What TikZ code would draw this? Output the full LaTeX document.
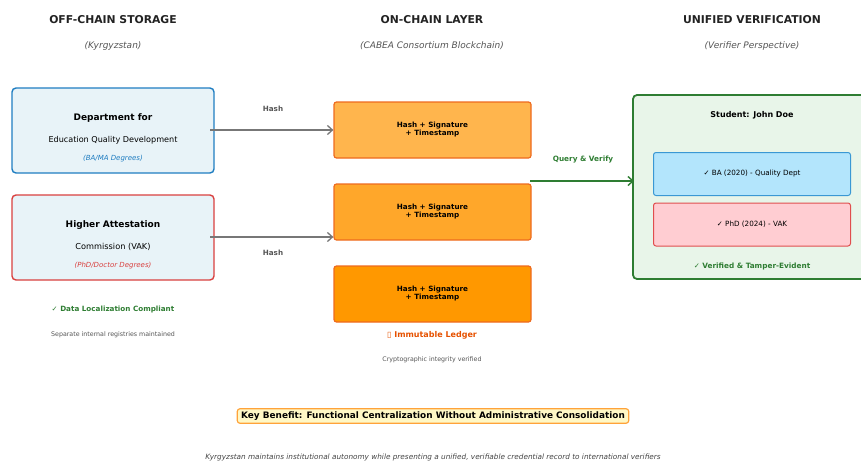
\documentclass[tikz,border=0pt]{standalone}
\usepackage{fontspec}
\setmainfont{DejaVu Sans}
\usetikzlibrary{arrows.meta}
\definecolor{titlec}{HTML}{222222}
\definecolor{subc}{HTML}{555555}
\definecolor{boxfill}{HTML}{E8F3F8}
\definecolor{blueb}{HTML}{1F7DC1}
\definecolor{redb}{HTML}{D9403F}
\definecolor{oranA}{HTML}{FFB54D}
\definecolor{oranB}{HTML}{FFA72A}
\definecolor{oranC}{HTML}{FF9800}
\definecolor{oranb}{HTML}{EE6A1E}
\definecolor{greenb}{HTML}{2E7D32}
\definecolor{greenf}{HTML}{E8F5E9}
\definecolor{ltblue}{HTML}{B3E5FC}
\definecolor{ltblueb}{HTML}{3A98D4}
\definecolor{pinkf}{HTML}{FFCDD2}
\definecolor{pinkb}{HTML}{E04E4E}
\definecolor{keyf}{HTML}{FFF8C6}
\definecolor{keyb}{HTML}{FFA33A}
\definecolor{ledger}{HTML}{E65100}
\definecolor{arrowg}{HTML}{777777}
\begin{document}
\begin{tikzpicture}[x=1pt,y=-1pt,
  coltitle/.style={font=\fontsize{10.8}{12}\selectfont\bfseries, text=titlec},
  colsub/.style={font=\fontsize{9}{10}\selectfont\itshape, text=subc},
  srcbox/.style={draw, line width=1.4pt, rounded corners=4pt, fill=boxfill},
  chainbox/.style={draw=oranb, line width=1.2pt, rounded corners=2.5pt, font=\fontsize{7.2}{8}\selectfont\bfseries, align=center},
  credbox/.style={draw, line width=1pt, rounded corners=2.5pt, font=\fontsize{7.2}{8}\selectfont},
  hasharrow/.style={draw=arrowg, line width=1.4pt, -{Straight Barb[length=5pt,width=9pt,line width=1.3pt]}},
  smalllab/.style={font=\fontsize{7.2}{8}\selectfont\bfseries, text=subc},
  note/.style={font=\fontsize{6.3}{7}\selectfont, text=subc}
  ]
\useasboundingbox (0,0) rectangle (861,463);
\clip (0,0) rectangle (861,463);

% column titles
\node[coltitle] (t1) at (113,20) {OFF-CHAIN STORAGE};
\node[colsub] (s1) at (113,46) {(Kyrgyzstan)};
\node[coltitle] (t2) at (432,20) {ON-CHAIN LAYER};
\node[colsub] (s2) at (432,46) {(CABEA Consortium Blockchain)};
\node[coltitle] (t3) at (752,20) {UNIFIED VERIFICATION};
\node[colsub] (s3) at (752,46) {(Verifier Perspective)};

% off-chain boxes
\draw[srcbox, draw=blueb] (12,88) rectangle (214,173);
\node[font=\fontsize{9}{10}\selectfont\bfseries] (d1) at (113,118) {Department for};
\node[font=\fontsize{8.1}{9}\selectfont] (d2) at (113,140) {Education Quality Development};
\node[font=\fontsize{7}{8}\selectfont\itshape, text=blueb] (d3) at (113,159) {(BA/MA Degrees)};
\coordinate (d1out) at (210,130);

\draw[srcbox, draw=redb] (12,195) rectangle (214,280);
\node[font=\fontsize{9}{10}\selectfont\bfseries] (v1) at (113,225) {Higher Attestation};
\node[font=\fontsize{8.2}{9}\selectfont] (v2) at (113,247) {Commission (VAK)};
\node[font=\fontsize{7}{8}\selectfont\itshape, text=redb] (v3) at (113,266) {(PhD/Doctor Degrees)};
\coordinate (v1out) at (210,237);

\node[font=\fontsize{7.2}{8}\selectfont\bfseries, text=greenb] (dl) at (113,310) {✓ Data Localization Compliant};
\node[note] (sep) at (113,335) {Separate internal registries maintained};

% on-chain blocks
\node[chainbox, fill=oranA, minimum width=197pt, minimum height=56pt] (b1) at (432.5,130) {Hash + Signature\\+ Timestamp};
\node[chainbox, fill=oranB, minimum width=197pt, minimum height=56pt] (b2) at (432.5,212) {Hash + Signature\\+ Timestamp};
\node[chainbox, fill=oranC, minimum width=197pt, minimum height=56pt] (b3) at (432.5,294) {Hash + Signature\\+ Timestamp};
\node[font=\fontsize{9}{10}\selectfont\bfseries, text=ledger] (il) at (432,335) {\fontsize{8}{9}\selectfont▯\ Immutable Ledger};
\node[note] (cr) at (432,360) {Cryptographic integrity verified};

% hash arrows
\draw[hasharrow] (d1out) -- (b1.west);
\draw[hasharrow] (v1out) -- (b2.west |- v1out);
\node[smalllab] (h1) at (273,109) {Hash};
\node[smalllab] (h2) at (273,253) {Hash};

% verification box
\draw[draw=greenb, fill=greenf, line width=1.8pt, rounded corners=4pt] (633,95) rectangle (875,279);
\coordinate (vin) at (634,181);
\coordinate (bout) at (530,181);
\draw[draw=greenb, line width=1.5pt, -{Straight Barb[length=5pt,width=9pt,line width=1.4pt]}] (bout) -- (vin);
\node[font=\fontsize{7.3}{8}\selectfont\bfseries, text=greenb] (qv) at (583,160) {Query \& Verify};
\node[font=\fontsize{8}{9}\selectfont\bfseries] (st) at (752,115) {Student: John Doe};
\node[credbox, draw=ltblueb, fill=ltblue, minimum width=197pt, minimum height=43pt] (ba) at (752,174) {✓ BA (2020) - Quality Dept};
\node[credbox, draw=pinkb, fill=pinkf, minimum width=197pt, minimum height=43pt] (phd) at (752,224.5) {✓ PhD (2024) - VAK};
\node[font=\fontsize{7.3}{8}\selectfont\bfseries, text=greenb] (ve) at (752,266.5) {✓ Verified \& Tamper-Evident};

% key benefit
\node[draw=keyb, fill=keyf, line width=1.2pt, rounded corners=3pt, inner xsep=4pt, inner ysep=3pt, font=\fontsize{8.9}{10}\selectfont\bfseries] (kb) at (433,416) {Key Benefit: Functional Centralization Without Administrative Consolidation};
\node[font=\fontsize{7.3}{8}\selectfont\itshape, text=titlec!85, inner ysep=1pt] (bt) at (433,457.5) {Kyrgyzstan maintains institutional autonomy while presenting a unified, verifiable credential record to international verifiers};
\end{tikzpicture}
\end{document}
